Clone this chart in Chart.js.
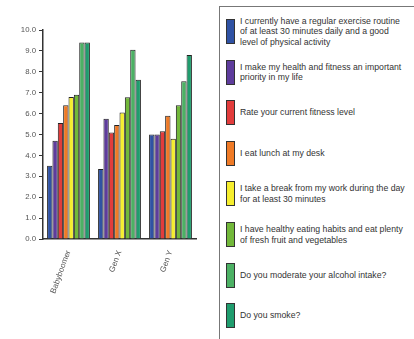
<!DOCTYPE html>
<html>
<head>
<meta charset="utf-8">
<script src="https://cdn.jsdelivr.net/npm/chart.js@4/dist/chart.umd.min.js"></script>
<style>
  body { margin: 0; background: #fff; width: 414px; height: 339px; overflow: hidden; position: relative; font-family: "Liberation Sans", Arial, sans-serif; }
  #wrap { position: absolute; left: 0; top: 0; width: 210px; height: 339px; }
  #legend { position: absolute; left: 219px; top: 6px; width: 210px; height: 345px; border: 1px solid #777; box-sizing: border-box; }
  .item { position: absolute; left: 6px; height: 25px; display: flex; align-items: center; }
  .sw { width: 7px; height: 23px; border: 1px solid #333; flex: none; }
  .txt { margin-left: 5px; font-size: 8.7px; line-height: 10.5px; color: #333; white-space: nowrap; }
</style>
</head>
<body>
<div id="wrap"><canvas id="c" width="210" height="339"></canvas></div>
<div id="legend"></div>
<script>
// groups on the x axis
const groups = ['Babyboomer', 'Gen X', 'Gen Y'];

// survey statements (legend text, one entry per line)
const questions = [
  ['I currently have a regular exercise routine', 'of at least 30 minutes daily and a good', 'level of physical activity'],
  ['I make my health and fitness an important', 'priority in my life'],
  ['Rate your current fitness level'],
  ['I eat lunch at my desk'],
  ['I take a break from my work during the day', 'for at least 30 minutes'],
  ['I have healthy eating habits and eat plenty', 'of fresh fruit and vegetables'],
  ['Do you moderate your alcohol intake?'],
  ['Do you smoke?']
];

// scores per question: Babyboomer, Gen X, Gen Y
const exercise = [3.5, 3.35, 5.0];
const priority = [4.7, 5.75, 5.0];
const fitness  = [5.55, 5.1, 5.15];
const lunch    = [6.4, 5.45, 5.9];
const breaks   = [6.8, 6.05, 4.8];
const eating   = [6.9, 6.78, 6.4];
const alcohol  = [9.4, 9.05, 7.55];
const smoke    = [9.4, 7.62, 8.8];

const yTicks = [0, 1, 2, 3, 4, 5, 6, 7, 8, 9, 10];

const colors = ['#2f52a4', '#5e3c9c', '#e23c3c', '#ef7a26', '#f6ee2e', '#72b83a', '#4cb164', '#1f9d6e'];
const series = [exercise, priority, fitness, lunch, breaks, eating, alcohol, smoke];

const datasets = series.map((vals, i) => ({
  label: questions[i].join(' '),
  data: vals,
  backgroundColor: colors[i],
  borderColor: '#222',
  borderWidth: 1,
  barPercentage: 1.0,
  categoryPercentage: 0.84
}));

const chart = new Chart(document.getElementById('c'), {
  type: 'bar',
  data: { labels: groups, datasets: datasets },
  options: {
    responsive: false,
    animation: false,
    layout: { padding: { top: 30, right: 14, left: 0, bottom: 0 } },
    plugins: { legend: { display: false }, tooltip: { enabled: false } },
    scales: {
      x: {
        grid: { display: false },
        border: { color: '#333', width: 1.5 },
        ticks: {
          color: '#555', font: { size: 8, family: 'Liberation Sans' },
          minRotation: 70, maxRotation: 70, padding: 2
        },
        afterFit: (s) => { s.height = 100; }
      },
      y: {
        min: 0, max: 10,
        afterBuildTicks: (s) => { s.ticks = yTicks.map(v => ({ value: v })); },
        grid: { drawOnChartArea: false, drawTicks: true, tickLength: 4, color: '#333' },
        border: { color: '#333', width: 1.5 },
        ticks: {
          color: '#555', font: { size: 7.8, family: 'Liberation Sans' }, padding: 3,
          callback: (v) => Number(v).toFixed(1)
        },
        afterFit: (s) => { s.width = 43; }
      }
    }
  }
});

// legend built from the chart's datasets
const legend = document.getElementById('legend');
chart.data.datasets.forEach((ds, i) => {
  const item = document.createElement('div');
  item.className = 'item';
  item.style.top = (12 + i * 40.6) + 'px';
  const sw = document.createElement('div');
  sw.className = 'sw';
  sw.style.background = ds.backgroundColor;
  const txt = document.createElement('div');
  txt.className = 'txt';
  txt.innerHTML = questions[i].join('<br>');
  item.appendChild(sw);
  item.appendChild(txt);
  legend.appendChild(item);
});
</script>
</body>
</html>
